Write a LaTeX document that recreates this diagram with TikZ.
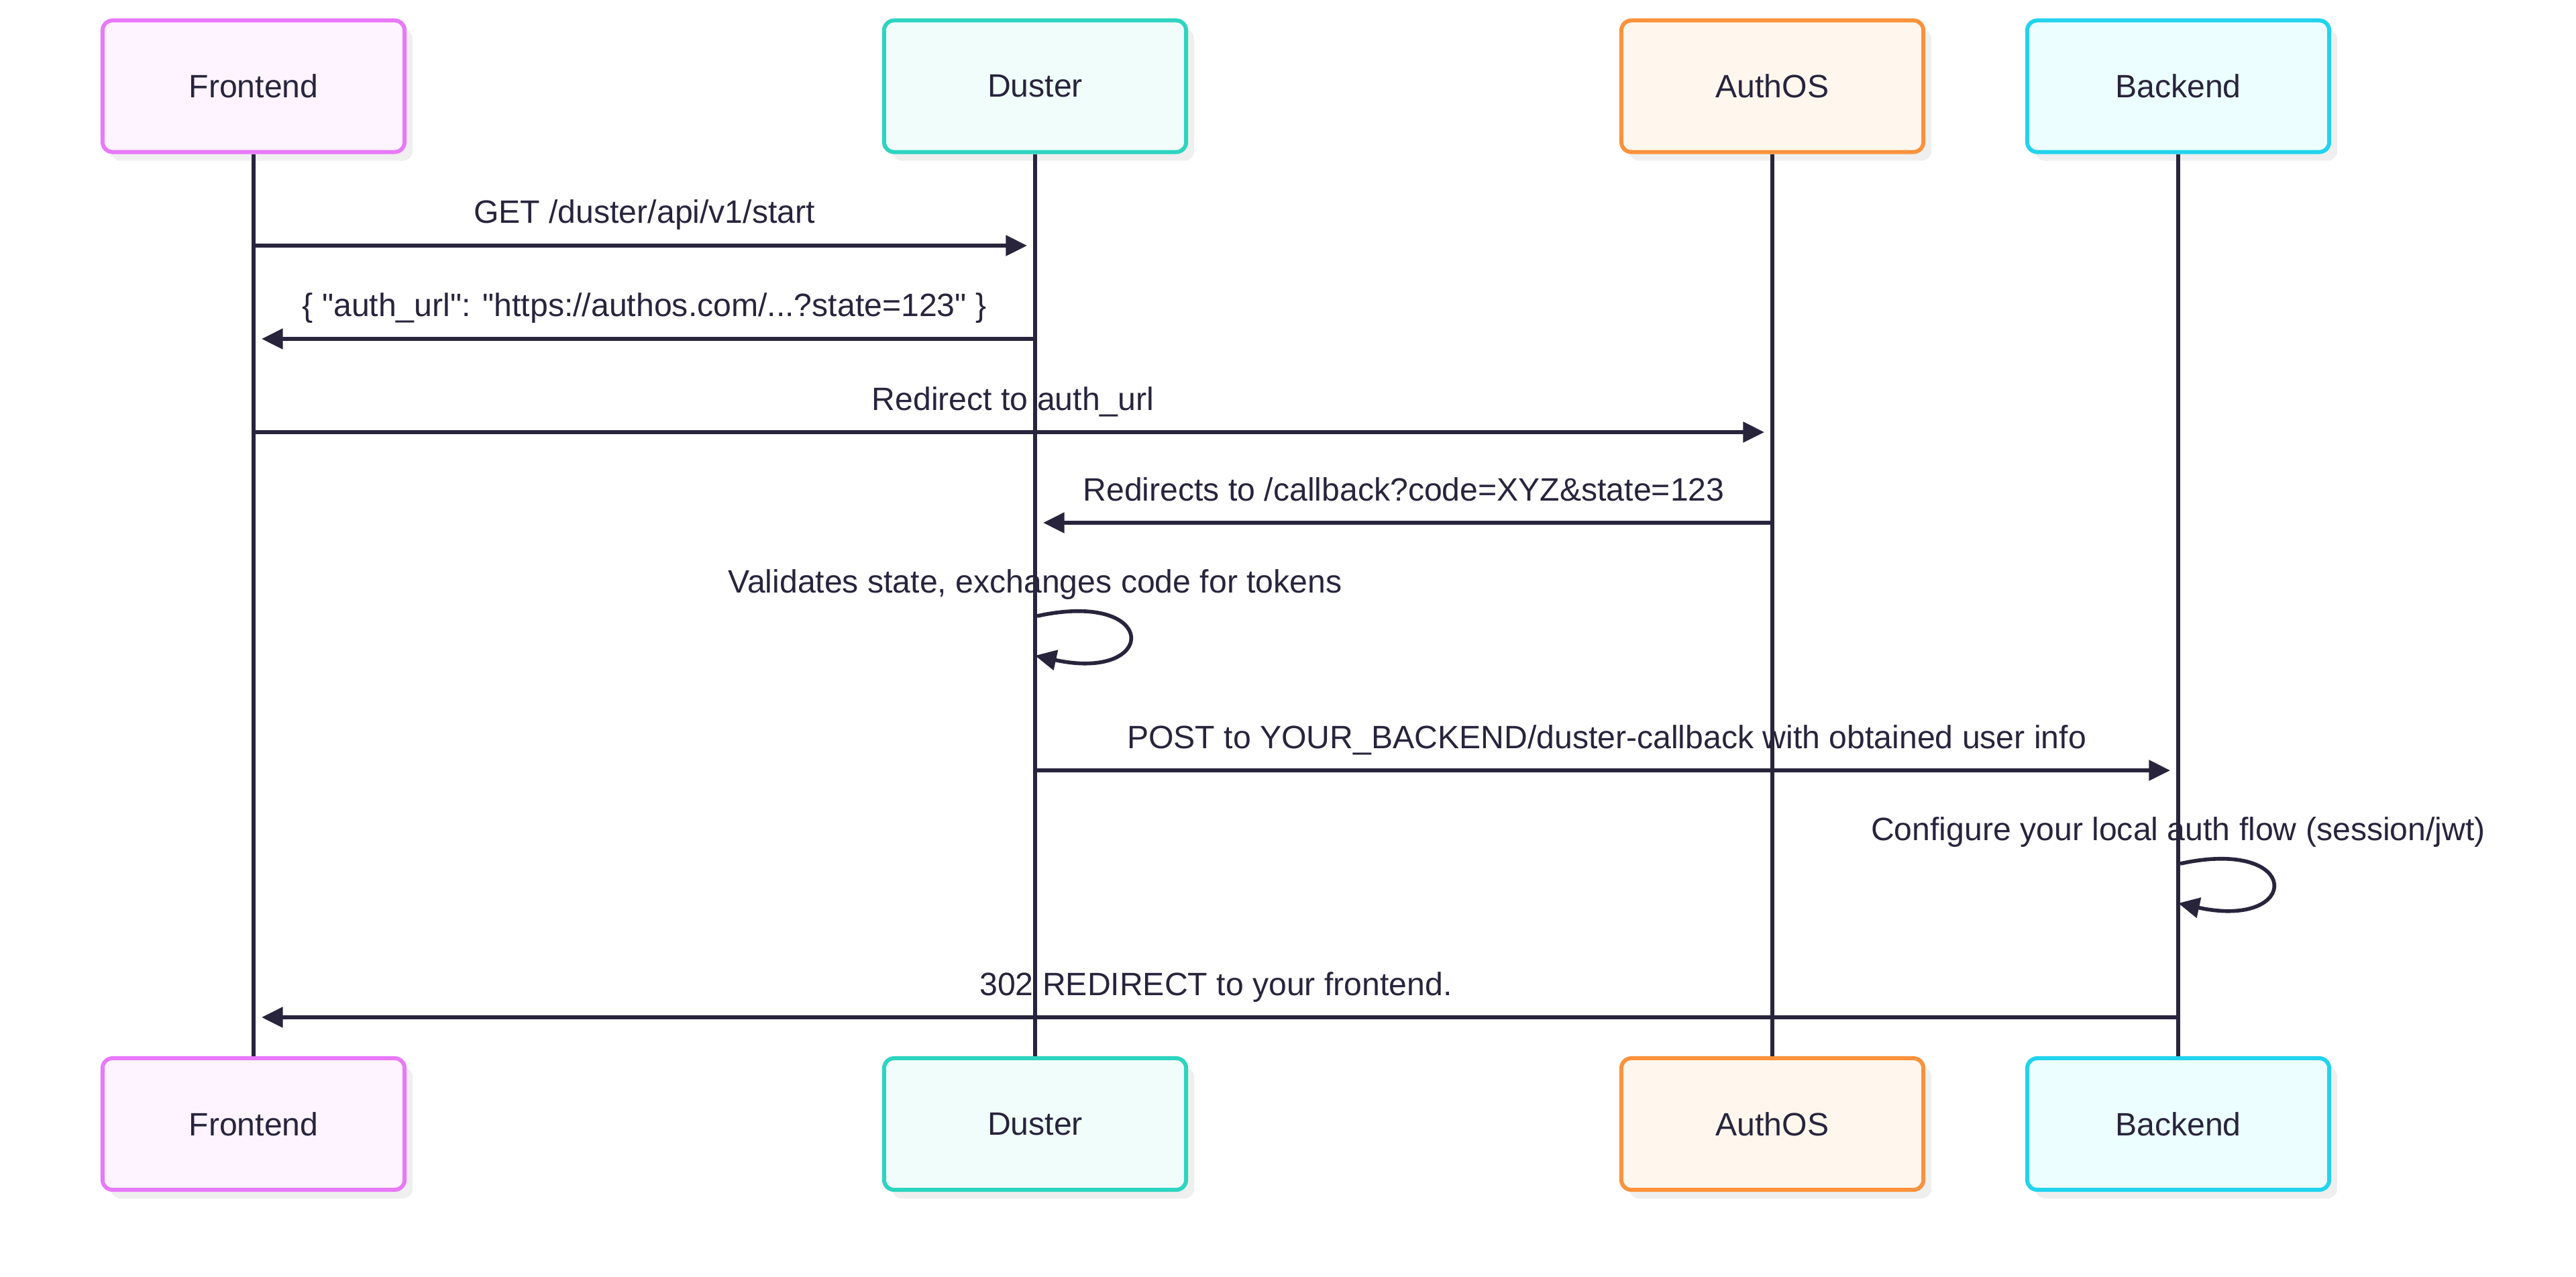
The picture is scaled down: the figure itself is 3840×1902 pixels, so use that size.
\documentclass[tikz,border=0pt]{standalone}
\usepackage{fontspec}
\setmainfont{Liberation Sans}
\usetikzlibrary{arrows.meta,shadows}

\definecolor{ink}{HTML}{28243C}
\definecolor{feline}{HTML}{E879F9}
\definecolor{fefill}{HTML}{FDF4FF}
\definecolor{duline}{HTML}{2DD4BF}
\definecolor{dufill}{HTML}{F0FDFA}
\definecolor{auline}{HTML}{FB923C}
\definecolor{aufill}{HTML}{FFF7ED}
\definecolor{beline}{HTML}{22D3EE}
\definecolor{befill}{HTML}{ECFEFF}
\definecolor{shade}{HTML}{EFEFEF}

\begin{document}
\begin{tikzpicture}[x=0.01cm,y=-0.01cm,
  font=\fontsize{13.7pt}{16pt}\selectfont, text=ink,
  actor/.style 2 args={draw=#1, fill=#2, line width=1.7pt, rounded corners=0.15cm,
    minimum width=4.5cm, minimum height=1.96cm, inner sep=0pt,
    drop shadow={shadow xshift=0.12cm, shadow yshift=-0.13cm, fill=shade, opacity=1}},
  life/.style={draw=ink, line width=1.7pt},
  msg/.style={draw=ink, line width=1.6pt, -{Triangle[length=9pt,width=8.5pt]}},
  lbl/.style={anchor=base, inner sep=0pt}]
\useasboundingbox (0,0) rectangle (3840,1902);
%participants
\foreach \name/\lbl/\x/\bc/\fc in {fe/Frontend/378/feline/fefill, du/Duster/1543/duline/dufill,
    au/AuthOS/2642/auline/aufill, be/Backend/3247/beline/befill}{
  \node[actor={\bc}{\fc}] (\name-top) at (\x,128.5) {\lbl};
  \node[actor={\bc}{\fc}] (\name-bot) at (\x,1675) {\lbl};
  \draw[life] (\name-top) -- (\name-bot);
}
%message rows
\coordinate (m1) at (0,366);
\coordinate (m2) at (0,505);
\coordinate (m3) at (0,644);
\coordinate (m4) at (0,779);
\coordinate (s1) at (0,918);
\coordinate (s1e) at (0,977);
\coordinate (m5) at (0,1148);
\coordinate (s2) at (0,1287);
\coordinate (s2e) at (0,1346);
\coordinate (m6) at (0,1516);
%messages
\draw[msg, shorten >=0.12cm] (fe-top |- m1) -- node[lbl, midway, yshift=0.33cm]{GET /duster/api/v1/start} (du-top |- m1);
\draw[msg, shorten >=0.12cm] (du-top |- m2) -- node[lbl, midway, yshift=0.33cm]{\{ \textquotedbl auth\_url\textquotedbl: \textquotedbl https://authos.com/...?state=123\textquotedbl{} \}} (fe-top |- m2);
\draw[msg, shorten >=0.12cm] (fe-top |- m3) -- node[lbl, midway, yshift=0.33cm]{Redirect to auth\_url} (au-top |- m3);
\draw[msg, shorten >=0.12cm] (au-top |- m4) -- node[lbl, midway, yshift=0.33cm]{Redirects to /callback?code=XYZ\&state=123} (du-top |- m4);
%self calls
\node[lbl] (t1) at ([yshift=0.35cm]du-top |- s1) {Validates state, exchanges code for tokens};
\draw[msg] ([xshift=0.03cm]du-top |- s1) .. controls +(184,-40) and +(184,40) .. (du-top |- s1e);
\draw[msg, shorten >=0.12cm] (du-top |- m5) -- node[lbl, midway, yshift=0.33cm]{POST to YOUR\_BACKEND/duster-callback with obtained user info} (be-top |- m5);
\node[lbl] (t2) at ([yshift=0.35cm]be-top |- s2) {Configure your local auth flow (session/jwt)};
\draw[msg] ([xshift=0.03cm]be-top |- s2) .. controls +(184,-40) and +(184,40) .. (be-top |- s2e);
\draw[msg, shorten >=0.12cm] (be-top |- m6) -- node[lbl, midway, yshift=0.33cm]{302 REDIRECT to your frontend.} (fe-top |- m6);
\end{tikzpicture}
\end{document}
